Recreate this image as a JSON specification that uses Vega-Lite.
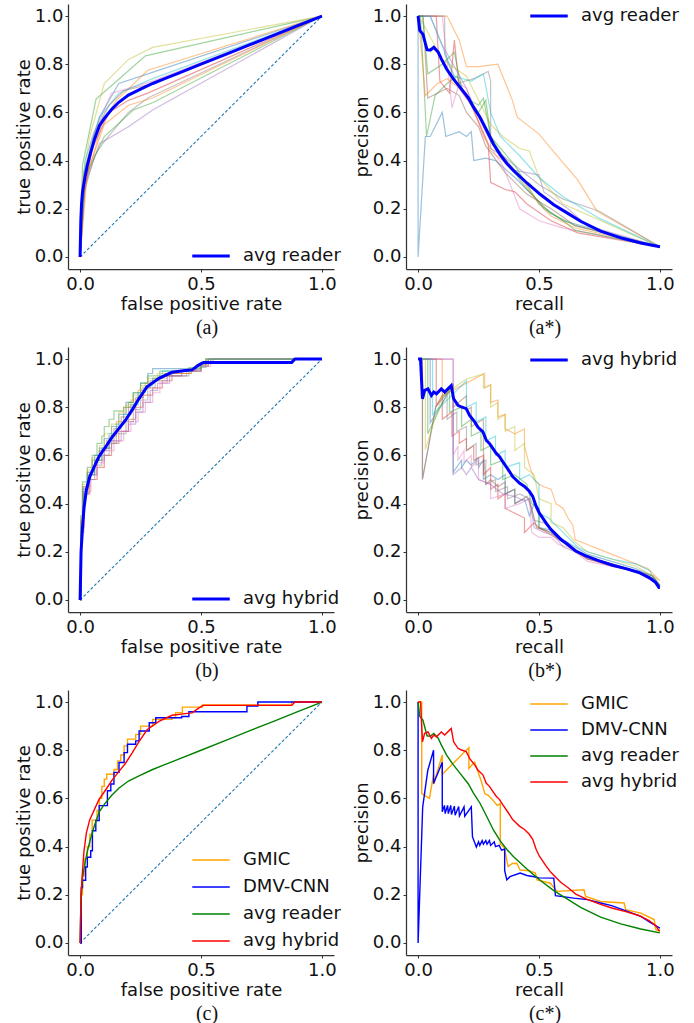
{
"$schema": "https://vega.github.io/schema/vega-lite/v6.json",
"background": "white",
"padding": {"left": 15, "top": 4, "right": 4, "bottom": 2},
"config": {
  "font": "DejaVu Sans",
  "view": {"stroke": null},
  "axis": {"grid": false, "ticks": true, "tickSize": 3, "tickColor": "#333333", "tickWidth": 1, "domainColor": "#333333", "domainWidth": 1.25, "labelFont": "DejaVu Sans", "labelFontSize": 18, "labelColor": "#111111", "titleFont": "DejaVu Sans", "titleFontSize": 18, "titleFontWeight": "normal", "titleColor": "#111111", "labelFlush": false, "labelOverlap": false},
  "axisX": {"labelPadding": 3, "titlePadding": 2},
  "axisY": {"labelPadding": 2, "titlePadding": 1},
  "title": {"font": "Liberation Serif", "fontSize": 20, "fontWeight": "normal", "color": "#111111", "orient": "bottom", "frame": "group", "dx": 6, "offset": 5},
  "legend": {"labelFont": "DejaVu Sans", "labelFontSize": 18, "labelColor": "#111111", "symbolType": "M-2.5,0H2.5", "symbolSize": 225, "labelOffset": 23, "padding": 0, "rowPadding": 9, "title": null, "orient": "none", "legendX": 134}
},
"datasets": {
  "diag": [{"x":0,"y":0},{"x":1,"y":1}],
  "avgReaderROC": [{"x":0,"y":0},{"x":0.003,"y":0.15},{"x":0.006,"y":0.22},{"x":0.01,"y":0.27},{"x":0.02,"y":0.33},{"x":0.03,"y":0.38},{"x":0.04,"y":0.42},{"x":0.06,"y":0.49},{"x":0.08,"y":0.545},{"x":0.1,"y":0.575},{"x":0.13,"y":0.612},{"x":0.16,"y":0.642},{"x":0.2,"y":0.672},{"x":0.25,"y":0.697},{"x":0.3,"y":0.72},{"x":0.35,"y":0.74},{"x":0.4,"y":0.76},{"x":0.5,"y":0.8},{"x":0.6,"y":0.84},{"x":0.7,"y":0.88},{"x":0.8,"y":0.92},{"x":0.9,"y":0.96},{"x":1,"y":1}],
  "avgReaderPR": [{"x":0,"y":1},{"x":0.007,"y":0.94},{"x":0.02,"y":0.925},{"x":0.037,"y":0.86},{"x":0.05,"y":0.858},{"x":0.065,"y":0.87},{"x":0.083,"y":0.85},{"x":0.097,"y":0.82},{"x":0.118,"y":0.78},{"x":0.145,"y":0.74},{"x":0.173,"y":0.705},{"x":0.208,"y":0.66},{"x":0.229,"y":0.622},{"x":0.256,"y":0.58},{"x":0.284,"y":0.525},{"x":0.312,"y":0.468},{"x":0.339,"y":0.425},{"x":0.367,"y":0.388},{"x":0.395,"y":0.358},{"x":0.45,"y":0.307},{"x":0.506,"y":0.259},{"x":0.561,"y":0.217},{"x":0.616,"y":0.183},{"x":0.672,"y":0.148},{"x":0.755,"y":0.107},{"x":0.838,"y":0.079},{"x":0.921,"y":0.058},{"x":1,"y":0.042}],
  "avgHybridROC": [{"x":0,"y":0},{"x":0.004,"y":0.2},{"x":0.01,"y":0.3},{"x":0.016,"y":0.38},{"x":0.026,"y":0.457},{"x":0.04,"y":0.512},{"x":0.065,"y":0.567},{"x":0.078,"y":0.595},{"x":0.106,"y":0.636},{"x":0.133,"y":0.677},{"x":0.161,"y":0.712},{"x":0.188,"y":0.746},{"x":0.216,"y":0.79},{"x":0.243,"y":0.835},{"x":0.277,"y":0.885},{"x":0.326,"y":0.92},{"x":0.38,"y":0.945},{"x":0.435,"y":0.952},{"x":0.463,"y":0.955},{"x":0.49,"y":0.975},{"x":0.51,"y":0.986},{"x":0.875,"y":0.986},{"x":0.889,"y":1},{"x":1,"y":1}],
  "avgHybridPR": [{"x":0,"y":1},{"x":0.01,"y":1},{"x":0.018,"y":0.835},{"x":0.027,"y":0.87},{"x":0.041,"y":0.876},{"x":0.055,"y":0.849},{"x":0.065,"y":0.863},{"x":0.076,"y":0.856},{"x":0.096,"y":0.876},{"x":0.11,"y":0.863},{"x":0.137,"y":0.89},{"x":0.147,"y":0.835},{"x":0.165,"y":0.808},{"x":0.179,"y":0.801},{"x":0.199,"y":0.794},{"x":0.213,"y":0.766},{"x":0.234,"y":0.739},{"x":0.247,"y":0.718},{"x":0.268,"y":0.698},{"x":0.282,"y":0.663},{"x":0.295,"y":0.65},{"x":0.309,"y":0.629},{"x":0.323,"y":0.609},{"x":0.337,"y":0.595},{"x":0.35,"y":0.574},{"x":0.364,"y":0.554},{"x":0.378,"y":0.533},{"x":0.391,"y":0.512},{"x":0.405,"y":0.499},{"x":0.419,"y":0.485},{"x":0.44,"y":0.471},{"x":0.46,"y":0.451},{"x":0.474,"y":0.43},{"x":0.488,"y":0.389},{"x":0.501,"y":0.361},{"x":0.515,"y":0.341},{"x":0.529,"y":0.32},{"x":0.549,"y":0.293},{"x":0.57,"y":0.272},{"x":0.591,"y":0.251},{"x":0.618,"y":0.231},{"x":0.652,"y":0.203},{"x":0.694,"y":0.183},{"x":0.749,"y":0.162},{"x":0.804,"y":0.144},{"x":0.859,"y":0.13},{"x":0.913,"y":0.114},{"x":0.955,"y":0.093},{"x":0.982,"y":0.073},{"x":0.996,"y":0.052},{"x":1,"y":0.052}],
  "gmicROC": [{"x":0,"y":0},{"x":0.004,"y":0.2},{"x":0.01,"y":0.28},{"x":0.02,"y":0.35},{"x":0.03,"y":0.4},{"x":0.04,"y":0.45},{"x":0.05,"y":0.51},{"x":0.07,"y":0.55},{"x":0.08,"y":0.6},{"x":0.09,"y":0.65},{"x":0.1,"y":0.68},{"x":0.11,"y":0.7},{"x":0.14,"y":0.72},{"x":0.155,"y":0.756},{"x":0.168,"y":0.78},{"x":0.182,"y":0.818},{"x":0.196,"y":0.846},{"x":0.23,"y":0.866},{"x":0.25,"y":0.9},{"x":0.3,"y":0.928},{"x":0.38,"y":0.935},{"x":0.395,"y":0.956},{"x":0.423,"y":0.979},{"x":0.49,"y":0.979},{"x":0.505,"y":0.988},{"x":0.87,"y":0.988},{"x":0.875,"y":1},{"x":1,"y":1}],
  "dmvROC": [{"x":0,"y":0},{"x":0.005,"y":0.23},{"x":0.01,"y":0.26},{"x":0.023,"y":0.315},{"x":0.03,"y":0.356},{"x":0.044,"y":0.383},{"x":0.051,"y":0.466},{"x":0.065,"y":0.508},{"x":0.079,"y":0.57},{"x":0.106,"y":0.57},{"x":0.113,"y":0.632},{"x":0.127,"y":0.66},{"x":0.14,"y":0.708},{"x":0.161,"y":0.749},{"x":0.182,"y":0.79},{"x":0.196,"y":0.825},{"x":0.23,"y":0.839},{"x":0.244,"y":0.88},{"x":0.286,"y":0.914},{"x":0.313,"y":0.935},{"x":0.42,"y":0.94},{"x":0.45,"y":0.96},{"x":0.68,"y":0.96},{"x":0.69,"y":0.983},{"x":0.73,"y":0.983},{"x":0.735,"y":1},{"x":1,"y":1}],
  "gmicPR": [{"x":0,"y":1},{"x":0.015,"y":1},{"x":0.015,"y":0.62},{"x":0.047,"y":0.6},{"x":0.064,"y":0.7},{"x":0.064,"y":0.66},{"x":0.1,"y":0.78},{"x":0.1,"y":0.7},{"x":0.21,"y":0.811},{"x":0.21,"y":0.724},{"x":0.234,"y":0.751},{"x":0.248,"y":0.71},{"x":0.262,"y":0.669},{"x":0.276,"y":0.62},{"x":0.29,"y":0.613},{"x":0.303,"y":0.6},{"x":0.327,"y":0.571},{"x":0.34,"y":0.578},{"x":0.34,"y":0.41},{"x":0.357,"y":0.395},{"x":0.372,"y":0.317},{"x":0.39,"y":0.33},{"x":0.408,"y":0.331},{"x":0.422,"y":0.303},{"x":0.46,"y":0.3},{"x":0.485,"y":0.29},{"x":0.492,"y":0.262},{"x":0.547,"y":0.248},{"x":0.575,"y":0.214},{"x":0.686,"y":0.221},{"x":0.693,"y":0.193},{"x":0.755,"y":0.172},{"x":0.852,"y":0.166},{"x":0.859,"y":0.138},{"x":0.921,"y":0.124},{"x":0.976,"y":0.097},{"x":0.983,"y":0.055},{"x":1,"y":0.048}],
  "dmvPR": [{"x":0,"y":1},{"x":0,"y":0},{"x":0.019,"y":0.564},{"x":0.04,"y":0.716},{"x":0.064,"y":0.8},{"x":0.064,"y":0.662},{"x":0.1,"y":0.75},{"x":0.1,"y":0.545},{"x":0.109,"y":0.571},{"x":0.112,"y":0.537},{"x":0.122,"y":0.571},{"x":0.125,"y":0.537},{"x":0.135,"y":0.571},{"x":0.138,"y":0.533},{"x":0.15,"y":0.568},{"x":0.153,"y":0.53},{"x":0.168,"y":0.566},{"x":0.171,"y":0.527},{"x":0.19,"y":0.565},{"x":0.193,"y":0.526},{"x":0.22,"y":0.565},{"x":0.225,"y":0.44},{"x":0.241,"y":0.398},{"x":0.25,"y":0.42},{"x":0.255,"y":0.405},{"x":0.265,"y":0.425},{"x":0.27,"y":0.41},{"x":0.28,"y":0.425},{"x":0.285,"y":0.41},{"x":0.295,"y":0.425},{"x":0.3,"y":0.405},{"x":0.315,"y":0.42},{"x":0.32,"y":0.4},{"x":0.335,"y":0.405},{"x":0.345,"y":0.385},{"x":0.358,"y":0.39},{"x":0.358,"y":0.3},{"x":0.367,"y":0.262},{"x":0.38,"y":0.275},{"x":0.422,"y":0.29},{"x":0.45,"y":0.28},{"x":0.48,"y":0.275},{"x":0.5,"y":0.27},{"x":0.561,"y":0.269},{"x":0.568,"y":0.196},{"x":0.644,"y":0.186},{"x":0.7,"y":0.18},{"x":0.755,"y":0.166},{"x":0.8,"y":0.155},{"x":0.866,"y":0.131},{"x":0.921,"y":0.11},{"x":0.963,"y":0.083},{"x":1,"y":0.062}],
  "readerROC": [
    {"s":"r1","x":0,"y":0},{"s":"r1","x":0.015,"y":0.35},{"s":"r1","x":0.08,"y":0.58},{"s":"r1","x":0.16,"y":0.72},{"s":"r1","x":0.28,"y":0.76},{"s":"r1","x":1,"y":1},
    {"s":"r2","x":0,"y":0},{"s":"r2","x":0.02,"y":0.3},{"s":"r2","x":0.09,"y":0.55},{"s":"r2","x":0.15,"y":0.65},{"s":"r2","x":0.28,"y":0.775},{"s":"r2","x":1,"y":1},
    {"s":"r3","x":0,"y":0},{"s":"r3","x":0.01,"y":0.38},{"s":"r3","x":0.066,"y":0.655},{"s":"r3","x":0.14,"y":0.72},{"s":"r3","x":0.27,"y":0.835},{"s":"r3","x":1,"y":1},
    {"s":"r4","x":0,"y":0},{"s":"r4","x":0.01,"y":0.22},{"s":"r4","x":0.05,"y":0.45},{"s":"r4","x":0.12,"y":0.6},{"s":"r4","x":0.2,"y":0.65},{"s":"r4","x":0.28,"y":0.68},{"s":"r4","x":1,"y":1},
    {"s":"r5","x":0,"y":0},{"s":"r5","x":0.02,"y":0.3},{"s":"r5","x":0.08,"y":0.47},{"s":"r5","x":0.2,"y":0.54},{"s":"r5","x":0.3,"y":0.61},{"s":"r5","x":1,"y":1},
    {"s":"r6","x":0,"y":0},{"s":"r6","x":0.01,"y":0.3},{"s":"r6","x":0.06,"y":0.52},{"s":"r6","x":0.12,"y":0.63},{"s":"r6","x":0.18,"y":0.69},{"s":"r6","x":0.3,"y":0.72},{"s":"r6","x":1,"y":1},
    {"s":"r7","x":0,"y":0},{"s":"r7","x":0.01,"y":0.3},{"s":"r7","x":0.05,"y":0.5},{"s":"r7","x":0.13,"y":0.68},{"s":"r7","x":0.2,"y":0.7},{"s":"r7","x":0.3,"y":0.73},{"s":"r7","x":1,"y":1},
    {"s":"r8","x":0,"y":0},{"s":"r8","x":0.02,"y":0.28},{"s":"r8","x":0.06,"y":0.42},{"s":"r8","x":0.1,"y":0.48},{"s":"r8","x":0.2,"y":0.6},{"s":"r8","x":0.28,"y":0.66},{"s":"r8","x":1,"y":1},
    {"s":"r9","x":0,"y":0},{"s":"r9","x":0.01,"y":0.32},{"s":"r9","x":0.04,"y":0.5},{"s":"r9","x":0.1,"y":0.72},{"s":"r9","x":0.2,"y":0.82},{"s":"r9","x":0.3,"y":0.87},{"s":"r9","x":1,"y":1},
    {"s":"r10","x":0,"y":0},{"s":"r10","x":0.02,"y":0.4},{"s":"r10","x":0.08,"y":0.58},{"s":"r10","x":0.16,"y":0.68},{"s":"r10","x":0.3,"y":0.74},{"s":"r10","x":1,"y":1},
    {"s":"r11","x":0,"y":0},{"s":"r11","x":0.02,"y":0.33},{"s":"r11","x":0.1,"y":0.5},{"s":"r11","x":0.22,"y":0.61},{"s":"r11","x":0.3,"y":0.64},{"s":"r11","x":1,"y":1},
    {"s":"r12","x":0,"y":0},{"s":"r12","x":0.03,"y":0.35},{"s":"r12","x":0.1,"y":0.55},{"s":"r12","x":0.2,"y":0.63},{"s":"r12","x":0.3,"y":0.66},{"s":"r12","x":1,"y":1}
  ],
  "readerPR": [
    {"s":"r1","x":0,"y":1},{"s":"r1","x":0,"y":0},{"s":"r1","x":0.03,"y":0.5},{"s":"r1","x":0.05,"y":0.5},{"s":"r1","x":0.1,"y":0.6},{"s":"r1","x":0.115,"y":0.5},{"s":"r1","x":0.17,"y":0.52},{"s":"r1","x":0.2,"y":0.5},{"s":"r1","x":0.22,"y":0.52},{"s":"r1","x":0.23,"y":0.4},{"s":"r1","x":0.28,"y":0.41},{"s":"r1","x":0.32,"y":0.4},{"s":"r1","x":0.4,"y":0.33},{"s":"r1","x":0.5,"y":0.23},{"s":"r1","x":0.52,"y":0.2},{"s":"r1","x":0.6,"y":0.15},{"s":"r1","x":1,"y":0.042},
    {"s":"r2","x":0,"y":1},{"s":"r2","x":0.12,"y":1},{"s":"r2","x":0.17,"y":0.9},{"s":"r2","x":0.2,"y":0.79},{"s":"r2","x":0.25,"y":0.79},{"s":"r2","x":0.33,"y":0.8},{"s":"r2","x":0.39,"y":0.65},{"s":"r2","x":0.41,"y":0.58},{"s":"r2","x":0.5,"y":0.51},{"s":"r2","x":0.55,"y":0.45},{"s":"r2","x":0.66,"y":0.32},{"s":"r2","x":0.74,"y":0.19},{"s":"r2","x":1,"y":0.042},
    {"s":"r3","x":0,"y":1},{"s":"r3","x":0.01,"y":1},{"s":"r3","x":0.035,"y":0.5},{"s":"r3","x":0.07,"y":0.67},{"s":"r3","x":0.12,"y":0.72},{"s":"r3","x":0.16,"y":0.75},{"s":"r3","x":0.2,"y":0.66},{"s":"r3","x":0.25,"y":0.63},{"s":"r3","x":0.27,"y":0.66},{"s":"r3","x":0.3,"y":0.5},{"s":"r3","x":0.35,"y":0.42},{"s":"r3","x":0.45,"y":0.28},{"s":"r3","x":0.55,"y":0.18},{"s":"r3","x":0.65,"y":0.13},{"s":"r3","x":1,"y":0.042},
    {"s":"r4","x":0,"y":1},{"s":"r4","x":0.075,"y":1},{"s":"r4","x":0.09,"y":0.73},{"s":"r4","x":0.13,"y":0.68},{"s":"r4","x":0.15,"y":0.9},{"s":"r4","x":0.17,"y":0.7},{"s":"r4","x":0.22,"y":0.63},{"s":"r4","x":0.29,"y":0.47},{"s":"r4","x":0.3,"y":0.31},{"s":"r4","x":0.36,"y":0.28},{"s":"r4","x":0.4,"y":0.27},{"s":"r4","x":0.45,"y":0.22},{"s":"r4","x":0.55,"y":0.15},{"s":"r4","x":0.66,"y":0.1},{"s":"r4","x":1,"y":0.042},
    {"s":"r5","x":0,"y":1},{"s":"r5","x":0.05,"y":1},{"s":"r5","x":0.1,"y":0.88},{"s":"r5","x":0.2,"y":0.7},{"s":"r5","x":0.25,"y":0.58},{"s":"r5","x":0.3,"y":0.48},{"s":"r5","x":0.4,"y":0.36},{"s":"r5","x":0.5,"y":0.34},{"s":"r5","x":0.52,"y":0.27},{"s":"r5","x":0.62,"y":0.2},{"s":"r5","x":0.7,"y":0.13},{"s":"r5","x":1,"y":0.042},
    {"s":"r6","x":0,"y":1},{"s":"r6","x":0.02,"y":1},{"s":"r6","x":0.04,"y":0.66},{"s":"r6","x":0.12,"y":0.7},{"s":"r6","x":0.17,"y":0.67},{"s":"r6","x":0.2,"y":0.6},{"s":"r6","x":0.25,"y":0.54},{"s":"r6","x":0.28,"y":0.46},{"s":"r6","x":0.36,"y":0.35},{"s":"r6","x":0.45,"y":0.26},{"s":"r6","x":0.55,"y":0.2},{"s":"r6","x":0.65,"y":0.13},{"s":"r6","x":1,"y":0.042},
    {"s":"r7","x":0,"y":1},{"s":"r7","x":0.1,"y":1},{"s":"r7","x":0.14,"y":0.62},{"s":"r7","x":0.17,"y":0.72},{"s":"r7","x":0.2,"y":0.7},{"s":"r7","x":0.27,"y":0.5},{"s":"r7","x":0.35,"y":0.38},{"s":"r7","x":0.42,"y":0.2},{"s":"r7","x":0.5,"y":0.15},{"s":"r7","x":0.6,"y":0.12},{"s":"r7","x":1,"y":0.042},
    {"s":"r8","x":0,"y":1},{"s":"r8","x":0.11,"y":1},{"s":"r8","x":0.11,"y":0.84},{"s":"r8","x":0.16,"y":0.72},{"s":"r8","x":0.23,"y":0.74},{"s":"r8","x":0.29,"y":0.77},{"s":"r8","x":0.3,"y":0.73},{"s":"r8","x":0.3,"y":0.45},{"s":"r8","x":0.35,"y":0.42},{"s":"r8","x":0.45,"y":0.34},{"s":"r8","x":0.5,"y":0.3},{"s":"r8","x":0.6,"y":0.24},{"s":"r8","x":0.75,"y":0.19},{"s":"r8","x":1,"y":0.042},
    {"s":"r9","x":0,"y":1},{"s":"r9","x":0.02,"y":0.97},{"s":"r9","x":0.1,"y":0.82},{"s":"r9","x":0.2,"y":0.75},{"s":"r9","x":0.3,"y":0.55},{"s":"r9","x":0.35,"y":0.5},{"s":"r9","x":0.42,"y":0.45},{"s":"r9","x":0.46,"y":0.44},{"s":"r9","x":0.5,"y":0.33},{"s":"r9","x":0.6,"y":0.22},{"s":"r9","x":1,"y":0.042},
    {"s":"r10","x":0,"y":1},{"s":"r10","x":0.05,"y":1},{"s":"r10","x":0.15,"y":0.75},{"s":"r10","x":0.22,"y":0.73},{"s":"r10","x":0.27,"y":0.76},{"s":"r10","x":0.3,"y":0.6},{"s":"r10","x":0.34,"y":0.5},{"s":"r10","x":0.42,"y":0.42},{"s":"r10","x":0.5,"y":0.33},{"s":"r10","x":0.6,"y":0.25},{"s":"r10","x":0.75,"y":0.16},{"s":"r10","x":1,"y":0.042},
    {"s":"r11","x":0,"y":1},{"s":"r11","x":0.02,"y":1},{"s":"r11","x":0.04,"y":0.76},{"s":"r11","x":0.1,"y":0.8},{"s":"r11","x":0.15,"y":0.85},{"s":"r11","x":0.18,"y":0.7},{"s":"r11","x":0.25,"y":0.6},{"s":"r11","x":0.28,"y":0.65},{"s":"r11","x":0.3,"y":0.5},{"s":"r11","x":0.4,"y":0.38},{"s":"r11","x":0.5,"y":0.22},{"s":"r11","x":0.6,"y":0.15},{"s":"r11","x":0.65,"y":0.11},{"s":"r11","x":1,"y":0.042},
    {"s":"r12","x":0,"y":1},{"s":"r12","x":0.01,"y":0.9},{"s":"r12","x":0.03,"y":0.67},{"s":"r12","x":0.08,"y":0.72},{"s":"r12","x":0.12,"y":0.74},{"s":"r12","x":0.2,"y":0.68},{"s":"r12","x":0.3,"y":0.44},{"s":"r12","x":0.4,"y":0.36},{"s":"r12","x":0.5,"y":0.22},{"s":"r12","x":0.55,"y":0.17},{"s":"r12","x":0.65,"y":0.12},{"s":"r12","x":1,"y":0.042}
  ],
  "hybridROC": [
    {"s":"h1","x":0,"y":0},{"s":"h1","x":0.004,"y":0.3},{"s":"h1","x":0.01,"y":0.45},{"s":"h1","x":0.03,"y":0.53},{"s":"h1","x":0.06,"y":0.6},{"s":"h1","x":0.08,"y":0.63},{"s":"h1","x":0.1,"y":0.67},{"s":"h1","x":0.13,"y":0.72},{"s":"h1","x":0.16,"y":0.77},{"s":"h1","x":0.19,"y":0.82},{"s":"h1","x":0.22,"y":0.86},{"s":"h1","x":0.25,"y":0.9},{"s":"h1","x":0.28,"y":0.94},{"s":"h1","x":0.3,"y":0.96},{"s":"h1","x":0.48,"y":0.97},{"s":"h1","x":0.5,"y":0.985},{"s":"h1","x":0.53,"y":1},{"s":"h1","x":1,"y":1},
    {"s":"h2","x":0,"y":0},{"s":"h2","x":0.004,"y":0.32},{"s":"h2","x":0.012,"y":0.46},{"s":"h2","x":0.035,"y":0.52},{"s":"h2","x":0.06,"y":0.58},{"s":"h2","x":0.09,"y":0.63},{"s":"h2","x":0.12,"y":0.68},{"s":"h2","x":0.15,"y":0.74},{"s":"h2","x":0.18,"y":0.8},{"s":"h2","x":0.21,"y":0.83},{"s":"h2","x":0.24,"y":0.87},{"s":"h2","x":0.27,"y":0.9},{"s":"h2","x":0.3,"y":0.92},{"s":"h2","x":0.35,"y":0.94},{"s":"h2","x":0.45,"y":0.96},{"s":"h2","x":0.5,"y":0.98},{"s":"h2","x":0.52,"y":1},{"s":"h2","x":1,"y":1},
    {"s":"h3","x":0,"y":0},{"s":"h3","x":0.003,"y":0.35},{"s":"h3","x":0.01,"y":0.49},{"s":"h3","x":0.03,"y":0.55},{"s":"h3","x":0.05,"y":0.6},{"s":"h3","x":0.07,"y":0.65},{"s":"h3","x":0.09,"y":0.68},{"s":"h3","x":0.1,"y":0.72},{"s":"h3","x":0.12,"y":0.75},{"s":"h3","x":0.14,"y":0.785},{"s":"h3","x":0.18,"y":0.8},{"s":"h3","x":0.2,"y":0.82},{"s":"h3","x":0.22,"y":0.86},{"s":"h3","x":0.25,"y":0.9},{"s":"h3","x":0.28,"y":0.93},{"s":"h3","x":0.33,"y":0.95},{"s":"h3","x":0.45,"y":0.965},{"s":"h3","x":0.52,"y":0.985},{"s":"h3","x":0.54,"y":1},{"s":"h3","x":1,"y":1},
    {"s":"h4","x":0,"y":0},{"s":"h4","x":0.005,"y":0.28},{"s":"h4","x":0.015,"y":0.44},{"s":"h4","x":0.04,"y":0.5},{"s":"h4","x":0.07,"y":0.55},{"s":"h4","x":0.1,"y":0.6},{"s":"h4","x":0.13,"y":0.65},{"s":"h4","x":0.16,"y":0.7},{"s":"h4","x":0.2,"y":0.75},{"s":"h4","x":0.23,"y":0.8},{"s":"h4","x":0.26,"y":0.85},{"s":"h4","x":0.3,"y":0.88},{"s":"h4","x":0.34,"y":0.91},{"s":"h4","x":0.38,"y":0.94},{"s":"h4","x":0.46,"y":0.95},{"s":"h4","x":0.5,"y":0.97},{"s":"h4","x":0.53,"y":0.985},{"s":"h4","x":0.55,"y":1},{"s":"h4","x":1,"y":1},
    {"s":"h5","x":0,"y":0},{"s":"h5","x":0.004,"y":0.3},{"s":"h5","x":0.015,"y":0.47},{"s":"h5","x":0.04,"y":0.52},{"s":"h5","x":0.07,"y":0.58},{"s":"h5","x":0.1,"y":0.63},{"s":"h5","x":0.13,"y":0.66},{"s":"h5","x":0.17,"y":0.7},{"s":"h5","x":0.2,"y":0.73},{"s":"h5","x":0.23,"y":0.78},{"s":"h5","x":0.26,"y":0.82},{"s":"h5","x":0.29,"y":0.87},{"s":"h5","x":0.32,"y":0.9},{"s":"h5","x":0.37,"y":0.93},{"s":"h5","x":0.44,"y":0.955},{"s":"h5","x":0.5,"y":0.97},{"s":"h5","x":0.53,"y":1},{"s":"h5","x":1,"y":1},
    {"s":"h6","x":0,"y":0},{"s":"h6","x":0.003,"y":0.33},{"s":"h6","x":0.01,"y":0.47},{"s":"h6","x":0.03,"y":0.53},{"s":"h6","x":0.05,"y":0.58},{"s":"h6","x":0.08,"y":0.62},{"s":"h6","x":0.11,"y":0.66},{"s":"h6","x":0.14,"y":0.71},{"s":"h6","x":0.17,"y":0.76},{"s":"h6","x":0.2,"y":0.8},{"s":"h6","x":0.23,"y":0.84},{"s":"h6","x":0.26,"y":0.88},{"s":"h6","x":0.29,"y":0.91},{"s":"h6","x":0.33,"y":0.93},{"s":"h6","x":0.42,"y":0.95},{"s":"h6","x":0.48,"y":0.975},{"s":"h6","x":0.52,"y":1},{"s":"h6","x":1,"y":1},
    {"s":"h7","x":0,"y":0},{"s":"h7","x":0.005,"y":0.3},{"s":"h7","x":0.018,"y":0.45},{"s":"h7","x":0.045,"y":0.52},{"s":"h7","x":0.07,"y":0.57},{"s":"h7","x":0.1,"y":0.62},{"s":"h7","x":0.14,"y":0.66},{"s":"h7","x":0.18,"y":0.7},{"s":"h7","x":0.21,"y":0.74},{"s":"h7","x":0.24,"y":0.78},{"s":"h7","x":0.27,"y":0.82},{"s":"h7","x":0.3,"y":0.86},{"s":"h7","x":0.33,"y":0.9},{"s":"h7","x":0.36,"y":0.93},{"s":"h7","x":0.42,"y":0.95},{"s":"h7","x":0.5,"y":0.97},{"s":"h7","x":0.54,"y":1},{"s":"h7","x":1,"y":1},
    {"s":"h8","x":0,"y":0},{"s":"h8","x":0.004,"y":0.29},{"s":"h8","x":0.012,"y":0.44},{"s":"h8","x":0.035,"y":0.5},{"s":"h8","x":0.06,"y":0.56},{"s":"h8","x":0.09,"y":0.6},{"s":"h8","x":0.12,"y":0.65},{"s":"h8","x":0.15,"y":0.69},{"s":"h8","x":0.19,"y":0.74},{"s":"h8","x":0.22,"y":0.79},{"s":"h8","x":0.25,"y":0.83},{"s":"h8","x":0.28,"y":0.88},{"s":"h8","x":0.31,"y":0.91},{"s":"h8","x":0.36,"y":0.93},{"s":"h8","x":0.45,"y":0.95},{"s":"h8","x":0.5,"y":0.98},{"s":"h8","x":0.53,"y":1},{"s":"h8","x":1,"y":1},
    {"s":"h9","x":0,"y":0},{"s":"h9","x":0.003,"y":0.34},{"s":"h9","x":0.01,"y":0.48},{"s":"h9","x":0.03,"y":0.54},{"s":"h9","x":0.05,"y":0.59},{"s":"h9","x":0.08,"y":0.64},{"s":"h9","x":0.1,"y":0.69},{"s":"h9","x":0.13,"y":0.73},{"s":"h9","x":0.16,"y":0.78},{"s":"h9","x":0.19,"y":0.81},{"s":"h9","x":0.22,"y":0.85},{"s":"h9","x":0.25,"y":0.89},{"s":"h9","x":0.28,"y":0.92},{"s":"h9","x":0.32,"y":0.94},{"s":"h9","x":0.46,"y":0.96},{"s":"h9","x":0.5,"y":0.98},{"s":"h9","x":0.52,"y":1},{"s":"h9","x":1,"y":1},
    {"s":"h10","x":0,"y":0},{"s":"h10","x":0.004,"y":0.31},{"s":"h10","x":0.012,"y":0.46},{"s":"h10","x":0.03,"y":0.52},{"s":"h10","x":0.06,"y":0.58},{"s":"h10","x":0.09,"y":0.63},{"s":"h10","x":0.12,"y":0.69},{"s":"h10","x":0.15,"y":0.73},{"s":"h10","x":0.18,"y":0.77},{"s":"h10","x":0.21,"y":0.81},{"s":"h10","x":0.24,"y":0.86},{"s":"h10","x":0.27,"y":0.89},{"s":"h10","x":0.3,"y":0.92},{"s":"h10","x":0.34,"y":0.95},{"s":"h10","x":0.46,"y":0.96},{"s":"h10","x":0.5,"y":0.985},{"s":"h10","x":0.52,"y":1},{"s":"h10","x":1,"y":1}
  ],
  "hybridPR": [
    {"s":"h1","x":0,"y":1},{"s":"h1","x":0.05,"y":1},{"s":"h1","x":0.05,"y":0.735},{"s":"h1","x":0.145,"y":0.89},{"s":"h1","x":0.145,"y":0.53},{"s":"h1","x":0.18,"y":0.58},{"s":"h1","x":0.18,"y":0.55},{"s":"h1","x":0.2,"y":0.58},{"s":"h1","x":0.22,"y":0.56},{"s":"h1","x":0.25,"y":0.59},{"s":"h1","x":0.25,"y":0.55},{"s":"h1","x":0.27,"y":0.58},{"s":"h1","x":0.27,"y":0.5},{"s":"h1","x":0.3,"y":0.52},{"s":"h1","x":0.33,"y":0.5},{"s":"h1","x":0.36,"y":0.52},{"s":"h1","x":0.36,"y":0.44},{"s":"h1","x":0.4,"y":0.46},{"s":"h1","x":0.4,"y":0.4},{"s":"h1","x":0.44,"y":0.42},{"s":"h1","x":0.46,"y":0.35},{"s":"h1","x":0.48,"y":0.4},{"s":"h1","x":0.5,"y":0.38},{"s":"h1","x":0.5,"y":0.3},{"s":"h1","x":0.55,"y":0.29},{"s":"h1","x":0.6,"y":0.25},{"s":"h1","x":0.65,"y":0.22},{"s":"h1","x":0.7,"y":0.19},{"s":"h1","x":0.8,"y":0.16},{"s":"h1","x":0.9,"y":0.13},{"s":"h1","x":0.97,"y":0.1},{"s":"h1","x":1,"y":0.06},
    {"s":"h2","x":0,"y":1},{"s":"h2","x":0.1,"y":1},{"s":"h2","x":0.1,"y":0.847},{"s":"h2","x":0.275,"y":0.94},{"s":"h2","x":0.275,"y":0.88},{"s":"h2","x":0.3,"y":0.893},{"s":"h2","x":0.3,"y":0.82},{"s":"h2","x":0.33,"y":0.83},{"s":"h2","x":0.33,"y":0.76},{"s":"h2","x":0.36,"y":0.77},{"s":"h2","x":0.36,"y":0.71},{"s":"h2","x":0.4,"y":0.69},{"s":"h2","x":0.44,"y":0.71},{"s":"h2","x":0.44,"y":0.64},{"s":"h2","x":0.46,"y":0.56},{"s":"h2","x":0.48,"y":0.5},{"s":"h2","x":0.5,"y":0.48},{"s":"h2","x":0.52,"y":0.47},{"s":"h2","x":0.55,"y":0.46},{"s":"h2","x":0.57,"y":0.4},{"s":"h2","x":0.6,"y":0.38},{"s":"h2","x":0.62,"y":0.34},{"s":"h2","x":0.64,"y":0.31},{"s":"h2","x":0.65,"y":0.25},{"s":"h2","x":0.7,"y":0.23},{"s":"h2","x":0.75,"y":0.21},{"s":"h2","x":0.8,"y":0.19},{"s":"h2","x":0.85,"y":0.17},{"s":"h2","x":0.9,"y":0.15},{"s":"h2","x":0.95,"y":0.13},{"s":"h2","x":0.98,"y":0.1},{"s":"h2","x":1,"y":0.08},
    {"s":"h3","x":0,"y":1},{"s":"h3","x":0.04,"y":1},{"s":"h3","x":0.04,"y":0.69},{"s":"h3","x":0.13,"y":0.88},{"s":"h3","x":0.13,"y":0.78},{"s":"h3","x":0.18,"y":0.8},{"s":"h3","x":0.18,"y":0.72},{"s":"h3","x":0.22,"y":0.75},{"s":"h3","x":0.22,"y":0.68},{"s":"h3","x":0.26,"y":0.7},{"s":"h3","x":0.26,"y":0.62},{"s":"h3","x":0.3,"y":0.64},{"s":"h3","x":0.3,"y":0.56},{"s":"h3","x":0.35,"y":0.58},{"s":"h3","x":0.35,"y":0.5},{"s":"h3","x":0.4,"y":0.52},{"s":"h3","x":0.45,"y":0.48},{"s":"h3","x":0.47,"y":0.4},{"s":"h3","x":0.5,"y":0.38},{"s":"h3","x":0.5,"y":0.3},{"s":"h3","x":0.55,"y":0.28},{"s":"h3","x":0.6,"y":0.24},{"s":"h3","x":0.65,"y":0.2},{"s":"h3","x":0.7,"y":0.18},{"s":"h3","x":0.8,"y":0.15},{"s":"h3","x":0.9,"y":0.12},{"s":"h3","x":0.97,"y":0.09},{"s":"h3","x":1,"y":0.06},
    {"s":"h4","x":0,"y":1},{"s":"h4","x":0.075,"y":1},{"s":"h4","x":0.075,"y":0.806},{"s":"h4","x":0.1,"y":0.85},{"s":"h4","x":0.1,"y":0.75},{"s":"h4","x":0.14,"y":0.78},{"s":"h4","x":0.14,"y":0.68},{"s":"h4","x":0.17,"y":0.7},{"s":"h4","x":0.17,"y":0.65},{"s":"h4","x":0.2,"y":0.67},{"s":"h4","x":0.2,"y":0.62},{"s":"h4","x":0.23,"y":0.64},{"s":"h4","x":0.23,"y":0.58},{"s":"h4","x":0.27,"y":0.6},{"s":"h4","x":0.27,"y":0.52},{"s":"h4","x":0.3,"y":0.55},{"s":"h4","x":0.3,"y":0.46},{"s":"h4","x":0.33,"y":0.48},{"s":"h4","x":0.33,"y":0.42},{"s":"h4","x":0.36,"y":0.44},{"s":"h4","x":0.36,"y":0.38},{"s":"h4","x":0.4,"y":0.36},{"s":"h4","x":0.44,"y":0.34},{"s":"h4","x":0.44,"y":0.28},{"s":"h4","x":0.48,"y":0.32},{"s":"h4","x":0.5,"y":0.3},{"s":"h4","x":0.55,"y":0.27},{"s":"h4","x":0.6,"y":0.24},{"s":"h4","x":0.65,"y":0.2},{"s":"h4","x":0.7,"y":0.17},{"s":"h4","x":0.8,"y":0.14},{"s":"h4","x":0.9,"y":0.12},{"s":"h4","x":0.97,"y":0.09},{"s":"h4","x":1,"y":0.06},
    {"s":"h5","x":0,"y":1},{"s":"h5","x":0.145,"y":1},{"s":"h5","x":0.145,"y":0.52},{"s":"h5","x":0.18,"y":0.55},{"s":"h5","x":0.2,"y":0.52},{"s":"h5","x":0.22,"y":0.55},{"s":"h5","x":0.25,"y":0.5},{"s":"h5","x":0.3,"y":0.48},{"s":"h5","x":0.35,"y":0.44},{"s":"h5","x":0.4,"y":0.43},{"s":"h5","x":0.44,"y":0.41},{"s":"h5","x":0.46,"y":0.42},{"s":"h5","x":0.48,"y":0.3},{"s":"h5","x":0.52,"y":0.28},{"s":"h5","x":0.56,"y":0.27},{"s":"h5","x":0.6,"y":0.22},{"s":"h5","x":0.7,"y":0.18},{"s":"h5","x":0.8,"y":0.15},{"s":"h5","x":0.9,"y":0.12},{"s":"h5","x":0.97,"y":0.09},{"s":"h5","x":1,"y":0.06},
    {"s":"h6","x":0,"y":1},{"s":"h6","x":0.018,"y":1},{"s":"h6","x":0.018,"y":0.5},{"s":"h6","x":0.073,"y":0.802},{"s":"h6","x":0.145,"y":0.89},{"s":"h6","x":0.145,"y":0.8},{"s":"h6","x":0.2,"y":0.847},{"s":"h6","x":0.2,"y":0.787},{"s":"h6","x":0.22,"y":0.8},{"s":"h6","x":0.22,"y":0.72},{"s":"h6","x":0.27,"y":0.75},{"s":"h6","x":0.27,"y":0.62},{"s":"h6","x":0.28,"y":0.48},{"s":"h6","x":0.3,"y":0.5},{"s":"h6","x":0.33,"y":0.47},{"s":"h6","x":0.36,"y":0.49},{"s":"h6","x":0.36,"y":0.44},{"s":"h6","x":0.4,"y":0.46},{"s":"h6","x":0.4,"y":0.4},{"s":"h6","x":0.45,"y":0.43},{"s":"h6","x":0.47,"y":0.38},{"s":"h6","x":0.49,"y":0.3},{"s":"h6","x":0.55,"y":0.28},{"s":"h6","x":0.6,"y":0.24},{"s":"h6","x":0.65,"y":0.21},{"s":"h6","x":0.7,"y":0.17},{"s":"h6","x":0.8,"y":0.15},{"s":"h6","x":0.9,"y":0.12},{"s":"h6","x":0.97,"y":0.1},{"s":"h6","x":1,"y":0.06},
    {"s":"h7","x":0,"y":1},{"s":"h7","x":0.145,"y":1},{"s":"h7","x":0.145,"y":0.6},{"s":"h7","x":0.165,"y":0.64},{"s":"h7","x":0.165,"y":0.58},{"s":"h7","x":0.19,"y":0.62},{"s":"h7","x":0.19,"y":0.57},{"s":"h7","x":0.22,"y":0.6},{"s":"h7","x":0.22,"y":0.55},{"s":"h7","x":0.25,"y":0.58},{"s":"h7","x":0.25,"y":0.5},{"s":"h7","x":0.3,"y":0.48},{"s":"h7","x":0.3,"y":0.42},{"s":"h7","x":0.36,"y":0.44},{"s":"h7","x":0.36,"y":0.38},{"s":"h7","x":0.42,"y":0.4},{"s":"h7","x":0.46,"y":0.42},{"s":"h7","x":0.47,"y":0.28},{"s":"h7","x":0.5,"y":0.26},{"s":"h7","x":0.55,"y":0.26},{"s":"h7","x":0.58,"y":0.23},{"s":"h7","x":0.62,"y":0.22},{"s":"h7","x":0.65,"y":0.2},{"s":"h7","x":0.7,"y":0.16},{"s":"h7","x":0.8,"y":0.14},{"s":"h7","x":0.9,"y":0.12},{"s":"h7","x":0.98,"y":0.07},{"s":"h7","x":1,"y":0.05},
    {"s":"h8","x":0,"y":1},{"s":"h8","x":0.018,"y":1},{"s":"h8","x":0.018,"y":0.5},{"s":"h8","x":0.073,"y":0.802},{"s":"h8","x":0.12,"y":0.87},{"s":"h8","x":0.12,"y":0.75},{"s":"h8","x":0.16,"y":0.78},{"s":"h8","x":0.16,"y":0.7},{"s":"h8","x":0.2,"y":0.72},{"s":"h8","x":0.2,"y":0.62},{"s":"h8","x":0.24,"y":0.65},{"s":"h8","x":0.24,"y":0.56},{"s":"h8","x":0.28,"y":0.58},{"s":"h8","x":0.28,"y":0.48},{"s":"h8","x":0.32,"y":0.5},{"s":"h8","x":0.32,"y":0.45},{"s":"h8","x":0.37,"y":0.47},{"s":"h8","x":0.37,"y":0.42},{"s":"h8","x":0.42,"y":0.44},{"s":"h8","x":0.46,"y":0.42},{"s":"h8","x":0.48,"y":0.33},{"s":"h8","x":0.52,"y":0.32},{"s":"h8","x":0.56,"y":0.28},{"s":"h8","x":0.6,"y":0.24},{"s":"h8","x":0.65,"y":0.21},{"s":"h8","x":0.7,"y":0.17},{"s":"h8","x":0.8,"y":0.15},{"s":"h8","x":0.9,"y":0.12},{"s":"h8","x":0.97,"y":0.1},{"s":"h8","x":1,"y":0.06},
    {"s":"h9","x":0,"y":1},{"s":"h9","x":0.03,"y":1},{"s":"h9","x":0.03,"y":0.625},{"s":"h9","x":0.1,"y":0.847},{"s":"h9","x":0.2,"y":0.917},{"s":"h9","x":0.27,"y":0.9375},{"s":"h9","x":0.27,"y":0.88},{"s":"h9","x":0.3,"y":0.893},{"s":"h9","x":0.3,"y":0.8},{"s":"h9","x":0.33,"y":0.82},{"s":"h9","x":0.33,"y":0.75},{"s":"h9","x":0.36,"y":0.77},{"s":"h9","x":0.36,"y":0.7},{"s":"h9","x":0.4,"y":0.72},{"s":"h9","x":0.4,"y":0.62},{"s":"h9","x":0.44,"y":0.65},{"s":"h9","x":0.44,"y":0.55},{"s":"h9","x":0.48,"y":0.52},{"s":"h9","x":0.5,"y":0.42},{"s":"h9","x":0.55,"y":0.4},{"s":"h9","x":0.55,"y":0.32},{"s":"h9","x":0.6,"y":0.3},{"s":"h9","x":0.65,"y":0.24},{"s":"h9","x":0.7,"y":0.2},{"s":"h9","x":0.8,"y":0.17},{"s":"h9","x":0.9,"y":0.14},{"s":"h9","x":0.97,"y":0.1},{"s":"h9","x":1,"y":0.08},
    {"s":"h10","x":0,"y":1},{"s":"h10","x":0.06,"y":1},{"s":"h10","x":0.06,"y":0.77},{"s":"h10","x":0.2,"y":0.91},{"s":"h10","x":0.2,"y":0.8},{"s":"h10","x":0.24,"y":0.82},{"s":"h10","x":0.24,"y":0.74},{"s":"h10","x":0.28,"y":0.76},{"s":"h10","x":0.28,"y":0.66},{"s":"h10","x":0.32,"y":0.68},{"s":"h10","x":0.32,"y":0.6},{"s":"h10","x":0.36,"y":0.62},{"s":"h10","x":0.36,"y":0.55},{"s":"h10","x":0.42,"y":0.57},{"s":"h10","x":0.42,"y":0.5},{"s":"h10","x":0.46,"y":0.52},{"s":"h10","x":0.5,"y":0.48},{"s":"h10","x":0.5,"y":0.36},{"s":"h10","x":0.54,"y":0.34},{"s":"h10","x":0.58,"y":0.3},{"s":"h10","x":0.62,"y":0.26},{"s":"h10","x":0.66,"y":0.22},{"s":"h10","x":0.7,"y":0.2},{"s":"h10","x":0.8,"y":0.17},{"s":"h10","x":0.9,"y":0.15},{"s":"h10","x":0.96,"y":0.12},{"s":"h10","x":0.97,"y":0.09},{"s":"h10","x":1,"y":0.06}
  ]
},
"columns": 2,
"spacing": {"row": 9, "column": 12},
"resolve": {"scale": {"color": "independent"}, "legend": {"color": "independent"}},
"concat": [
  {
    "width": 266, "height": 265, "title": {"text": "(a)"},
    "encoding": {
      "x": {"field": "x", "type": "quantitative", "scale": {"domain": [-0.05, 1.05], "nice": false, "zero": false}, "axis": {"title": "false positive rate", "values": [0, 0.5, 1], "format": ".1f"}},
      "y": {"field": "y", "type": "quantitative", "scale": {"domain": [-0.05, 1.05], "nice": false, "zero": false}, "axis": {"title": "true positive rate", "values": [0, 0.2, 0.4, 0.6, 0.8, 1], "format": ".1f"}}
    },
    "layer": [
      {"data": {"name": "readerROC"}, "mark": {"type": "line", "strokeWidth": 1.2, "opacity": 0.45},
       "encoding": {"color": {"field": "s", "type": "nominal", "scale": {"domain": ["r1","r2","r3","r4","r5","r6","r7","r8","r9","r10","r11","r12"], "range": ["#1f77b4","#ff7f0e","#2ca02c","#d62728","#9467bd","#8c564b","#e377c2","#7f7f7f","#bcbd22","#17becf","#2ca02c","#ff7f0e"]}, "legend": null}}},
      {"data": {"name": "diag"}, "mark": {"type": "line", "color": "#1f77b4", "stroke": "#1f77b4", "strokeWidth": 1.1, "strokeDash": [3, 2]}, "encoding": {}},
      {"data": {"name": "avgReaderROC"}, "mark": {"type": "line", "strokeWidth": 3},
       "encoding": {"color": {"datum": "avg reader", "scale": {"domain": ["avg reader"], "range": ["#0000ff"]}, "legend": {"legendY": 243, "symbolStrokeWidth": 3}}}}
    ],
    "resolve": {"scale": {"color": "independent"}}
  },
  {
    "width": 266, "height": 265, "title": {"text": "(a*)"},
    "encoding": {
      "x": {"field": "x", "type": "quantitative", "scale": {"domain": [-0.05, 1.05], "nice": false, "zero": false}, "axis": {"title": "recall", "values": [0, 0.5, 1], "format": ".1f"}},
      "y": {"field": "y", "type": "quantitative", "scale": {"domain": [-0.05, 1.05], "nice": false, "zero": false}, "axis": {"title": "precision", "values": [0, 0.2, 0.4, 0.6, 0.8, 1], "format": ".1f"}}
    },
    "layer": [
      {"data": {"name": "readerPR"}, "mark": {"type": "line", "strokeWidth": 1.2, "opacity": 0.45},
       "encoding": {"color": {"field": "s", "type": "nominal", "scale": {"domain": ["r1","r2","r3","r4","r5","r6","r7","r8","r9","r10","r11","r12"], "range": ["#1f77b4","#ff7f0e","#2ca02c","#d62728","#9467bd","#8c564b","#e377c2","#7f7f7f","#bcbd22","#17becf","#2ca02c","#ff7f0e"]}, "legend": null}}},
      {"data": {"name": "avgReaderPR"}, "mark": {"type": "line", "strokeWidth": 3},
       "encoding": {"color": {"datum": "avg reader", "scale": {"domain": ["avg reader"], "range": ["#0000ff"]}, "legend": {"legendY": 3, "symbolStrokeWidth": 3}}}}
    ],
    "resolve": {"scale": {"color": "independent"}}
  },
  {
    "width": 266, "height": 265, "title": {"text": "(b)"},
    "encoding": {
      "x": {"field": "x", "type": "quantitative", "scale": {"domain": [-0.05, 1.05], "nice": false, "zero": false}, "axis": {"title": "false positive rate", "values": [0, 0.5, 1], "format": ".1f"}},
      "y": {"field": "y", "type": "quantitative", "scale": {"domain": [-0.05, 1.05], "nice": false, "zero": false}, "axis": {"title": "true positive rate", "values": [0, 0.2, 0.4, 0.6, 0.8, 1], "format": ".1f"}}
    },
    "layer": [
      {"data": {"name": "hybridROC"}, "mark": {"type": "line", "strokeWidth": 1.2, "opacity": 0.45, "interpolate": "step-after"},
       "encoding": {"color": {"field": "s", "type": "nominal", "scale": {"domain": ["h1","h2","h3","h4","h5","h6","h7","h8","h9","h10"], "range": ["#1f77b4","#ff7f0e","#2ca02c","#d62728","#9467bd","#8c564b","#e377c2","#7f7f7f","#bcbd22","#17becf"]}, "legend": null}}},
      {"data": {"name": "diag"}, "mark": {"type": "line", "color": "#1f77b4", "stroke": "#1f77b4", "strokeWidth": 1.1, "strokeDash": [3, 2]}, "encoding": {}},
      {"data": {"name": "avgHybridROC"}, "mark": {"type": "line", "strokeWidth": 3},
       "encoding": {"color": {"datum": "avg hybrid", "scale": {"domain": ["avg hybrid"], "range": ["#0000ff"]}, "legend": {"legendY": 243, "symbolStrokeWidth": 3}}}}
    ],
    "resolve": {"scale": {"color": "independent"}}
  },
  {
    "width": 266, "height": 265, "title": {"text": "(b*)"},
    "encoding": {
      "x": {"field": "x", "type": "quantitative", "scale": {"domain": [-0.05, 1.05], "nice": false, "zero": false}, "axis": {"title": "recall", "values": [0, 0.5, 1], "format": ".1f"}},
      "y": {"field": "y", "type": "quantitative", "scale": {"domain": [-0.05, 1.05], "nice": false, "zero": false}, "axis": {"title": "precision", "values": [0, 0.2, 0.4, 0.6, 0.8, 1], "format": ".1f"}}
    },
    "layer": [
      {"data": {"name": "hybridPR"}, "mark": {"type": "line", "strokeWidth": 1.2, "opacity": 0.45},
       "encoding": {"color": {"field": "s", "type": "nominal", "scale": {"domain": ["h1","h2","h3","h4","h5","h6","h7","h8","h9","h10"], "range": ["#1f77b4","#ff7f0e","#2ca02c","#d62728","#9467bd","#8c564b","#e377c2","#7f7f7f","#bcbd22","#17becf"]}, "legend": null}}},
      {"data": {"name": "avgHybridPR"}, "mark": {"type": "line", "strokeWidth": 3},
       "encoding": {"color": {"datum": "avg hybrid", "scale": {"domain": ["avg hybrid"], "range": ["#0000ff"]}, "legend": {"legendY": 4, "symbolStrokeWidth": 3}}}}
    ],
    "resolve": {"scale": {"color": "independent"}}
  },
  {
    "width": 266, "height": 265, "title": {"text": "(c)"},
    "encoding": {
      "x": {"field": "x", "type": "quantitative", "scale": {"domain": [-0.05, 1.05], "nice": false, "zero": false}, "axis": {"title": "false positive rate", "values": [0, 0.5, 1], "format": ".1f"}},
      "y": {"field": "y", "type": "quantitative", "scale": {"domain": [-0.05, 1.05], "nice": false, "zero": false}, "axis": {"title": "true positive rate", "values": [0, 0.2, 0.4, 0.6, 0.8, 1], "format": ".1f"}}
    },
    "layer": [
      {"data": {"name": "diag"}, "mark": {"type": "line", "color": "#1f77b4", "stroke": "#1f77b4", "strokeWidth": 1.1, "strokeDash": [3, 2]}, "encoding": {}},
      {"data": {"name": "gmicROC"}, "mark": {"type": "line", "strokeWidth": 1.4, "interpolate": "step-after"},
       "encoding": {"color": {"datum": "GMIC", "scale": {"domain": ["GMIC", "DMV-CNN", "avg reader", "avg hybrid"], "range": ["#ffa500", "#0000ff", "#008000", "#ff0000"]}, "legend": {"legendY": 161, "symbolStrokeWidth": 1.6}}}},
      {"data": {"name": "dmvROC"}, "mark": {"type": "line", "strokeWidth": 1.4, "interpolate": "step-after"},
       "encoding": {"color": {"datum": "DMV-CNN"}}},
      {"data": {"name": "avgReaderROC"}, "mark": {"type": "line", "strokeWidth": 1.4},
       "encoding": {"color": {"datum": "avg reader"}}},
      {"data": {"name": "avgHybridROC"}, "mark": {"type": "line", "strokeWidth": 1.4},
       "encoding": {"color": {"datum": "avg hybrid"}}}
    ]
  },
  {
    "width": 266, "height": 265, "title": {"text": "(c*)"},
    "encoding": {
      "x": {"field": "x", "type": "quantitative", "scale": {"domain": [-0.05, 1.05], "nice": false, "zero": false}, "axis": {"title": "recall", "values": [0, 0.5, 1], "format": ".1f"}},
      "y": {"field": "y", "type": "quantitative", "scale": {"domain": [-0.05, 1.05], "nice": false, "zero": false}, "axis": {"title": "precision", "values": [0, 0.2, 0.4, 0.6, 0.8, 1], "format": ".1f"}}
    },
    "layer": [
      {"data": {"name": "gmicPR"}, "mark": {"type": "line", "strokeWidth": 1.4},
       "encoding": {"color": {"datum": "GMIC", "scale": {"domain": ["GMIC", "DMV-CNN", "avg reader", "avg hybrid"], "range": ["#ffa500", "#0000ff", "#008000", "#ff0000"]}, "legend": {"legendY": 5, "rowPadding": 8, "symbolStrokeWidth": 1.6}}}},
      {"data": {"name": "dmvPR"}, "mark": {"type": "line", "strokeWidth": 1.4},
       "encoding": {"color": {"datum": "DMV-CNN"}}},
      {"data": {"name": "avgReaderPR"}, "mark": {"type": "line", "strokeWidth": 1.4},
       "encoding": {"color": {"datum": "avg reader"}}},
      {"data": {"name": "avgHybridPR"}, "mark": {"type": "line", "strokeWidth": 1.4},
       "encoding": {"color": {"datum": "avg hybrid"}}}
    ]
  }
]
}
